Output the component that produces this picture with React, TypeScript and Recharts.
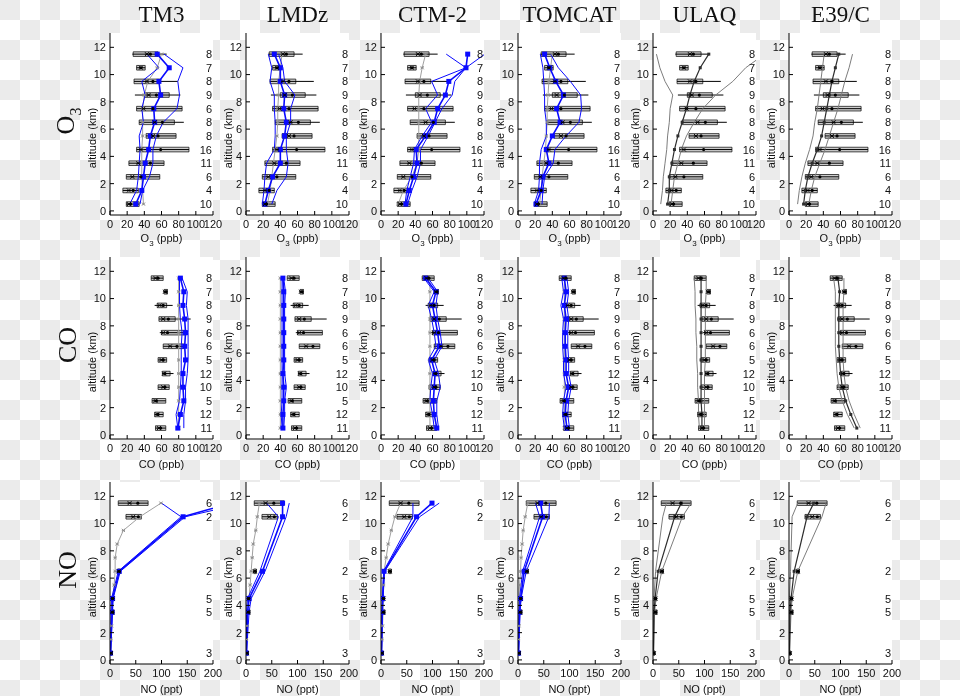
import React from 'react'
import {
  ComposedChart, Line, Scatter, XAxis, YAxis, ReferenceArea, ReferenceLine, CartesianGrid,
} from 'recharts'

const MODELS = ['TM3', 'LMDz', 'CTM-2', 'TOMCAT', 'ULAQ', 'E39/C']
const ALT = [0.5, 1.5, 2.5, 3.5, 4.5, 5.5, 6.5, 7.5, 8.5, 9.5, 10.5, 11.5]
const NO_ALT = [0.5, 3.5, 4.5, 6.5, 10.5, 11.5]

// observed O3 (ppb): whiskers, box, median, mean, number of flights
const o3P10 = [19, 15, 19, 22, 31, 42, 34, 31, 29, 28, 31, 26]
const o3P25 = [19, 15, 19, 22, 31, 42, 34, 31, 40, 28, 31, 27]
const o3Med = [22, 22, 26, 33, 36, 50, 52, 39, 45, 43, 36, 43]
const o3Mean = [24, 27, 36, 47, 59, 56, 61, 50, 54, 50, 36, 47]
const o3P75 = [34, 33, 58, 63, 92, 77, 75, 84, 69, 58, 41, 56]
const o3P90 = [34, 33, 58, 63, 92, 77, 86, 84, 82, 79, 41, 66]
const o3Count = [10, 4, 6, 11, 16, 8, 8, 6, 9, 8, 7, 8]

// observed CO (ppb)
const coP10 = [53, 52, 49, 56, 61, 56, 62, 58, 57, 52, 63, 48]
const coP25 = [53, 52, 49, 56, 61, 56, 62, 60, 57, 55, 63, 48]
const coMed = [57, 55, 53, 62, 63, 60, 70, 62, 62, 58, 64, 53]
const coMean = [59, 56, 54, 64, 64, 62, 78, 67, 68, 62, 65, 56]
const coP75 = [65, 62, 65, 69, 70, 66, 86, 89, 76, 66, 67, 62]
const coP90 = [65, 62, 65, 69, 74, 66, 86, 89, 94, 73, 67, 62]
const coCount = [11, 12, 5, 10, 12, 5, 6, 6, 9, 8, 7, 8]

// observed NO (ppt), only at NO_ALT
const noP10 = [1, 2, 3, 15, 31, 16]
const noP25 = [1, 2, 3, 15, 31, 16]
const noMed = [2, 4, 5, 17, 45, 38]
const noMean = [2, 5, 5, 18, 55, 54]
const noP75 = [3, 8, 7, 20, 61, 74]
const noP90 = [3, 8, 7, 20, 61, 74]
const noCount = [3, 5, 5, 2, 2, 6]

// models, O3
const tm3O3 = {
  lo: [23, 31, 33, 34, 35, 34, 39, 37, 41, 37, 57, 43],
  mean: [30, 37, 39, 41, 45, 47, 52, 51, 59, 57, 69, 55],
  hi: [35, 38, 46, 50, 50, 54, 62, 78, 81, 79, 85, 63],
  grey: [39, 38, 37, 37, 37, 38, 38, 38, 40, 44, 55, 60],
}
const lmdzO3 = {
  lo: [19, 21, 22, 24, 33, 34, 34, 33, 33, 28, 30, 26],
  mean: [22, 26, 31, 40, 40, 45, 47, 44, 45, 40, 40, 33],
  hi: [30, 36, 47, 49, 47, 47, 52, 52, 57, 45, 43, 38],
  grey: [25, 28, 30, 32, 34, 36, 37, 37, 38, 38, 40, 42],
}
const ctm2O3 = {
  lo: [28, 30, 34, 38, 39, 48, 59, 52, 66, 59, 99, 76],
  mean: [29, 33, 38, 42, 41, 52, 62, 66, 75, 79, 99, 101],
  hi: [31, 36, 42, 46, 46, 55, 63, 71, 83, 86, 99, 121],
  grey: [20, 26, 36, 42, 44, 44, 44, 44, 44, 45, 48, 52],
}
const tomcatO3 = {
  lo: [19, 24, 25, 25, 27, 33, 33, 31, 31, 30, 29, 26],
  mean: [21, 27, 29, 36, 33, 40, 49, 45, 53, 44, 37, 31],
  hi: [28, 29, 31, 41, 43, 56, 71, 74, 73, 61, 47, 38],
  grey: [25, 27, 28, 30, 32, 33, 34, 34, 35, 36, 38, 40],
}
const ulaqO3 = {
  lo: [9, 11, 12, 14, 16, 17, 19, 20, 23, 14, 8, 4],
  mean: [17, 19, 19, 22, 25, 29, 34, 39, 43, 48, 55, 65],
  hi: [21, 23, 25, 29, 33, 39, 48, 58, 73, 93, 108, 130],
}
const e39cO3 = {
  lo: [10, 12, 15, 19, 24, 28, 30, 33, 35, 37, 39, 41],
  mean: [17, 19, 22, 27, 33, 38, 41, 44, 47, 50, 54, 58],
  hi: [23, 26, 30, 36, 42, 47, 52, 57, 61, 65, 70, 74],
}

// models, CO
const tm3CO = {
  lo: [79, 77, 81, 82, 83, 83, 83, 84, 82, 81, 81, 81],
  mean: [79, 82, 86, 85, 85, 88, 87, 88, 87, 85, 86, 82],
  hi: [86, 86, 88, 88, 90, 91, 91, 91, 91, 89, 90, 84],
  grey: [80, 80, 80, 80, 80, 80, 80, 80, 80, 80, 80, 80],
}
const lmdzCO = {
  lo: [42, 41, 42, 42, 42, 42, 42, 42, 42, 42, 42, 42],
  mean: [43, 43, 44, 44, 43, 44, 44, 44, 44, 44, 44, 43],
  hi: [44, 45, 45, 47, 45, 45, 45, 45, 45, 45, 46, 44],
  grey: [40, 40, 40, 40, 40, 40, 40, 40, 40, 40, 40, 40],
}
const ctm2CO = {
  lo: [62, 60, 57, 58, 60, 55, 64, 62, 59, 55, 62, 50],
  mean: [65, 62, 61, 62, 63, 59, 68, 66, 63, 60, 64, 52],
  hi: [67, 65, 65, 69, 67, 62, 71, 69, 66, 64, 66, 55],
  grey: [57, 57, 57, 57, 57, 57, 57, 57, 57, 57, 57, 57],
}
const tomcatCO = {
  lo: [54, 52, 53, 56, 53, 53, 52, 52, 53, 50, 53, 51],
  mean: [57, 55, 56, 59, 56, 56, 55, 55, 56, 54, 56, 54],
  hi: [60, 58, 59, 62, 59, 59, 58, 58, 59, 57, 59, 57],
  grey: [54, 54, 54, 54, 54, 54, 54, 54, 54, 54, 54, 54],
}
const ulaqCO = {
  lo: [54, 53, 53, 52, 52, 51, 51, 50, 50, 49, 49, 48],
  mean: [57, 57, 56, 56, 56, 56, 56, 56, 56, 56, 56, 56],
  hi: [60, 60, 60, 60, 60, 61, 61, 61, 61, 61, 62, 62],
}
const e39cCO = {
  lo: [76, 68, 62, 58, 56, 55, 54, 54, 54, 54, 54, 52],
  mean: [79, 72, 66, 62, 60, 59, 58, 58, 58, 58, 59, 57],
  hi: [83, 76, 70, 66, 64, 63, 63, 63, 63, 63, 64, 64],
}

// models, NO (lo/mean/hi at NO_ALT, grey at ALT)
const tm3NO = {
  lo: [1, 2, 3, 16, 138, 100],
  mean: [1, 4, 5, 18, 142, 235],
  hi: [1, 5, 6, 20, 146, 260],
  grey: [2, 2, 3, 4, 5, 8, 10, 10, 14, 26, 58, 99],
}
const lmdzNO = {
  lo: [1, 1, 3, 27, 63, 40],
  mean: [1, 3, 6, 32, 71, 71],
  hi: [1, 6, 10, 37, 78, 84],
  grey: [1, 1, 2, 3, 6, 8, 10, 12, 14, 19, 22, 26],
}
const ctm2NO = {
  lo: [1, 2, 3, 5, 62, 62],
  mean: [1, 2, 3, 6, 69, 99],
  hi: [1, 3, 4, 7, 75, 113],
  grey: [1, 2, 3, 4, 4.5, 5, 6, 10, 14, 20, 27, 38],
}
const tomcatNO = {
  lo: [1, 2, 3, 9, 42, 34],
  mean: [1, 3, 5, 12, 48, 44],
  hi: [1, 4, 6, 16, 60, 61],
  grey: [1, 1, 2, 2, 2, 3, 5, 6, 8, 10, 14, 19],
}
const ulaqNO = {
  lo: [0, 1, 2, 5, 19, 26],
  mean: [1, 2, 4, 10, 42, 55],
  hi: [1, 3, 6, 17, 57, 74],
}
const e39cNO = {
  lo: [0, 1, 1, 3, 6, 17],
  mean: [1, 2, 4, 10, 35, 48],
  hi: [1, 4, 6, 17, 64, 72],
}

const BLUE = '#0a0aff'
const COL_LEFT = [110, 246, 381, 518, 653, 789]
const ROW_TOP = [33, 257, 482]
const PW = 103
const PH = 182
const RM = 14 // room on the right for the last tick label

const ROWS = [
  {
    label: 'O', sub: '3', axis: 'ppb', xmax: 120, xticks: [0, 20, 40, 60, 80, 100, 120], step: 5,
    obsAlt: ALT, modAlt: ALT,
    obs: { p10: o3P10, p25: o3P25, med: o3Med, mean: o3Mean, p75: o3P75, p90: o3P90, n: o3Count },
    mods: [tm3O3, lmdzO3, ctm2O3, tomcatO3, ulaqO3, e39cO3],
  },
  {
    label: 'CO', sub: '', axis: 'ppb', xmax: 120, xticks: [0, 20, 40, 60, 80, 100, 120], step: 5,
    obsAlt: ALT, modAlt: ALT,
    obs: { p10: coP10, p25: coP25, med: coMed, mean: coMean, p75: coP75, p90: coP90, n: coCount },
    mods: [tm3CO, lmdzCO, ctm2CO, tomcatCO, ulaqCO, e39cCO],
  },
  {
    label: 'NO', sub: '', axis: 'ppt', xmax: 200, xticks: [0, 50, 100, 150, 200], step: 10,
    obsAlt: NO_ALT, modAlt: NO_ALT,
    obs: { p10: noP10, p25: noP25, med: noMed, mean: noMean, p75: noP75, p90: noP90, n: noCount },
    mods: [tm3NO, lmdzNO, ctm2NO, tomcatNO, ulaqNO, e39cNO],
  },
]

const range = (a: number, b: number, s: number) => {
  const out: number[] = []
  for (let v = a; v <= b + 1e-9; v += s) out.push(v)
  return out
}

const pts = (vals: number[], alts: number[]) => alts.map((a, i) => ({ alt: a, v: vals[i] }))

const square = (color: string, s: number) => (p: any) =>
  p.cx == null ? <g key={`e${p.index}`} /> :
    <rect key={`s${p.index}`} x={p.cx - s / 2} y={p.cy - s / 2} width={s} height={s} fill={color} />

const star = (color: string, s: number) => (p: any) =>
  p.cx == null ? <g key={`e${p.index}`} /> :
    <path key={`x${p.index}`} stroke={color} strokeWidth={0.9} fill="none"
      d={`M${p.cx - s},${p.cy - s}L${p.cx + s},${p.cy + s}M${p.cx - s},${p.cy + s}L${p.cx + s},${p.cy - s}M${p.cx - s},${p.cy}L${p.cx + s},${p.cy}`} />

function Panel({ row, col }: { row: number; col: number }) {
  const r = ROWS[row]
  const m: any = r.mods[col]
  const blue = col < 4
  const meanCol = blue ? BLUE : '#2e2e2e'
  const edgeCol = blue ? BLUE : '#7d7d7d'
  const left = COL_LEFT[col]
  const top = ROW_TOP[row]
  const o = r.obs

  return (
    <div style={{ position: 'absolute', left: left - 30, top: top - 2 }}>
      <ComposedChart width={30 + PW + RM} height={PH + 22} margin={{ top: 2, right: RM, left: 0, bottom: 0 }}>
        <CartesianGrid fill="#fff" horizontal={false} vertical={false} />
        <XAxis type="number" dataKey="v" domain={[0, r.xmax]} ticks={r.xticks} interval={0} allowDataOverflow
          height={20} tickSize={-4} tickMargin={9} axisLine={{ stroke: '#000' }} tickLine={{ stroke: '#000' }}
          tick={{ fontSize: 11, fill: '#111' }} />
        <XAxis xAxisId="top" orientation="top" type="number" domain={[0, r.xmax]} ticks={range(0, r.xmax, r.step)}
          interval={0} allowDataOverflow height={0} tick={false} tickSize={-2}
          axisLine={{ stroke: '#000' }} tickLine={{ stroke: '#000' }} />
        <YAxis type="number" dataKey="alt" domain={[-0.3, 13.05]} ticks={[0, 2, 4, 6, 8, 10, 12]} interval={0}
          allowDataOverflow width={30} tickSize={-4} tickMargin={8} axisLine={{ stroke: '#000' }}
          tickLine={{ stroke: '#000' }} tick={{ fontSize: 11, fill: '#111' }} />
        <YAxis yAxisId="r" orientation="right" type="number" domain={[-0.3, 13.05]} ticks={range(0, 13, 0.5)}
          interval={0} allowDataOverflow width={0} tick={false} tickSize={-2}
          axisLine={{ stroke: '#000' }} tickLine={{ stroke: '#000' }} />

        {r.obsAlt.map((a, i) => (
          <ReferenceLine key={`w${i}`} segment={[{ x: o.p10[i], y: a }, { x: o.p90[i], y: a }]}
            stroke="#000" strokeWidth={1} ifOverflow="hidden" />
        ))}
        {r.obsAlt.map((a, i) => (
          <ReferenceArea key={`b${i}`} x1={o.p25[i]} x2={o.p75[i]} y1={a - 0.17} y2={a + 0.17}
            fill="#c4c4c4" fillOpacity={0.85} stroke="#000" strokeWidth={0.7} ifOverflow="hidden" />
        ))}

        {m.grey && (
          <Line data={pts(m.grey, ALT)} dataKey="alt" stroke="#a0a0a0" strokeWidth={1}
            dot={star('#8a8a8a', 1.6)} isAnimationActive={false} />
        )}
        <Line data={pts(m.lo, r.modAlt)} dataKey="alt" stroke={edgeCol} strokeWidth={1} dot={false}
          isAnimationActive={false} />
        <Line data={pts(m.hi, r.modAlt)} dataKey="alt" stroke={edgeCol} strokeWidth={1} dot={false}
          isAnimationActive={false} />
        <Line data={pts(m.mean, r.modAlt)} dataKey="alt" stroke={meanCol} strokeWidth={blue ? 1.6 : 1.2}
          dot={square(meanCol, blue ? 5 : 3)} isAnimationActive={false} />

        <Scatter data={pts(o.med, r.obsAlt)} shape={star('#000', 2)} isAnimationActive={false} />
        <Scatter data={pts(o.mean, r.obsAlt)}
          shape={(p: any) => <circle cx={p.cx} cy={p.cy} r={1.6} fill="#000" />} isAnimationActive={false} />
        <Scatter data={r.obsAlt.map((a, i) => ({ alt: a, v: r.xmax, n: o.n[i] }))} isAnimationActive={false}
          shape={(p: any) => (
            <text x={p.cx - 1} y={p.cy + 4} textAnchor="end" fontSize={11} fill="#111">{p.payload.n}</text>
          )} />
      </ComposedChart>
    </div>
  )
}

const centered = (x: number, y: number, extra: React.CSSProperties = {}): React.CSSProperties => ({
  position: 'absolute', left: x, top: y, transform: 'translate(-50%, -50%)', whiteSpace: 'nowrap', ...extra,
})

export default function App() {
  return (
    <div style={{
      position: 'fixed', left: 0, top: 0, width: 960, height: 696, overflow: 'hidden',
      background: 'repeating-conic-gradient(#fff 0% 25%, #ebebeb 0% 50%) 0 0 / 40px 40px',
      fontFamily: '"Liberation Sans", Arial, sans-serif', color: '#111',
    }}>
      {MODELS.map((name, c) => (
        <div key={name} style={centered(COL_LEFT[c] + PW / 2, 15,
          { fontFamily: '"Liberation Serif", serif', fontSize: 23 })}>{name}</div>
      ))}

      {ROWS.map((r, ri) => (
        <div key={r.label} style={centered(68, ROW_TOP[ri] + 88,
          { fontFamily: '"Liberation Serif", serif', fontSize: 26, transform: 'translate(-50%, -50%) rotate(-90deg)' })}>
          {r.label}{r.sub && <sub style={{ fontSize: 16 }}>{r.sub}</sub>}
        </div>
      ))}

      {ROWS.map((r, ri) => COL_LEFT.map((cl, c) => (
        <React.Fragment key={`${ri}-${c}`}>
          <Panel row={ri} col={c} />
          <div style={centered(cl - 18, ROW_TOP[ri] + 105,
            { fontSize: 11, transform: 'translate(-50%, -50%) rotate(-90deg)' })}>altitude (km)</div>
          <div style={centered(cl + PW / 2, ROW_TOP[ri] + PH + 25, { fontSize: 11 })}>
            {r.label}{r.sub && <sub style={{ fontSize: 8 }}>{r.sub}</sub>} ({r.axis})
          </div>
        </React.Fragment>
      )))}
    </div>
  )
}
